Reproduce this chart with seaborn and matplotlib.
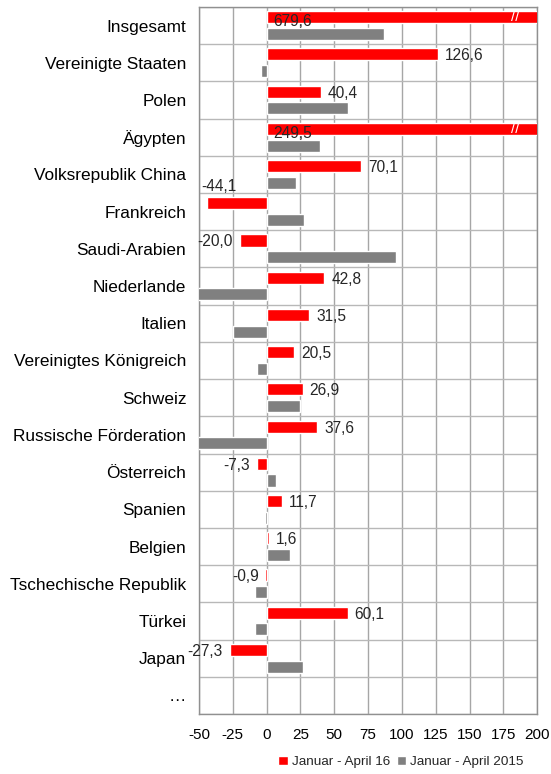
import numpy as np
import pandas as pd
import matplotlib
matplotlib.use('Agg')
import matplotlib.pyplot as plt
import seaborn as sns

# Daten (Veränderung in %)
laender = ['Insgesamt', 'Vereinigte Staaten', 'Polen', 'Ägypten', 'Volksrepublik China',
           'Frankreich', 'Saudi-Arabien', 'Niederlande', 'Italien', 'Vereinigtes Königreich',
           'Schweiz', 'Russische Förderation', 'Österreich', 'Spanien', 'Belgien',
           'Tschechische Republik', 'Türkei', 'Japan']
jan_apr_16 = [679.6, 126.6, 40.4, 249.5, 70.1, -44.1, -20.0, 42.8, 31.5, 20.5,
              26.9, 37.6, -7.3, 11.7, 1.6, -0.9, 60.1, -27.3]
jan_apr_15 = [86.6, -4.0, 59.9, 39.6, 21.5, 28.0, 95.5, -55.0, -25.0, -6.9,
              25.0, -55.0, 7.2, -1.0, 17.3, -8.7, -8.7, 27.2]
serien = ['Januar - April 16', 'Januar - April 2015']
x_ticks = [-50, -25, 0, 25, 50, 75, 100, 125, 150, 175, 200]

farben = ['#ff0000', '#808080']
order = laender + ['…']

df = pd.DataFrame({
    'Land': laender * 2,
    'Wert': jan_apr_16 + jan_apr_15,
    'Zeitraum': [serien[0]] * len(laender) + [serien[1]] * len(laender),
})

sns.set_style('white')
plt.rcParams['font.family'] = ['Liberation Sans', 'DejaVu Sans']
plt.rcParams['axes.unicode_minus'] = False

fig = plt.figure(figsize=(5.51, 7.74), dpi=100)
ax = fig.add_axes([0.361, 0.0775, 0.614, 0.9135])

sns.barplot(data=df, y='Land', x='Wert', hue='Zeitraum', order=order, hue_order=serien,
            palette=farben, orient='h', width=0.9, gap=0.28, saturation=1,
            errorbar=None, ax=ax, zorder=3)

xmin, xmax = x_ticks[0], x_ticks[-1]
ax.set_xlim(xmin, xmax)
ax.set_ylim(len(order) - 0.5, -0.5)
ax.set_xticks(x_ticks, [str(t) for t in x_ticks])
ax.set_yticks(range(len(order)), order)
ax.set_yticks(np.arange(len(order) + 1) - 0.5, minor=True)
ax.tick_params(axis='both', which='both', length=0, colors='black')
ax.tick_params(axis='x', labelsize=11, pad=10)
ax.tick_params(axis='y', labelsize=12.4, pad=9)
ax.set_xlabel('')
ax.set_ylabel('')
ax.grid(axis='x', which='major', color='#a6a6a6', linewidth=1, zorder=0)
ax.grid(axis='y', which='minor', color='#b8b8b8', linewidth=1, zorder=0)
ax.set_axisbelow(True)
for s in ax.spines.values():
    s.set_color('#909090')
    s.set_linewidth(1)

# Wertebeschriftungen für die aktuelle Reihe
fs = 11.2
for bar in ax.containers[0]:
    yc = bar.get_y() + bar.get_height() / 2
    idx = int(round(yc))
    v = jan_apr_16[idx]
    txt = f'{v:.1f}'.replace('.', ',')
    if v > xmax:
        ax.text(5, yc + 0.08, txt, ha='left', va='center_baseline', fontsize=fs, zorder=5)
        ax.text(xmax - 16, yc, '//', ha='center', va='center', color='white',
                fontsize=11, zorder=5)
    elif v >= 0:
        ax.text(v + 5, yc, txt, ha='left', va='center_baseline', fontsize=fs, zorder=5)
    elif v < -35:
        ax.text(xmin + 2, yc - 0.25, txt, ha='left', va='bottom', fontsize=fs, zorder=5)
    else:
        ax.text(v - 5, yc, txt, ha='right', va='center_baseline', fontsize=fs, zorder=5)

handles, labels = ax.get_legend_handles_labels()
ax.get_legend().remove()
fig.legend(handles, labels, loc='center', bbox_to_anchor=(0.728, 0.0155), ncol=2,
           frameon=False, fontsize=9.7, handlelength=0.7, handleheight=0.7,
           handletextpad=0.3, columnspacing=0.5)

fig.savefig('out.png', dpi=100)
